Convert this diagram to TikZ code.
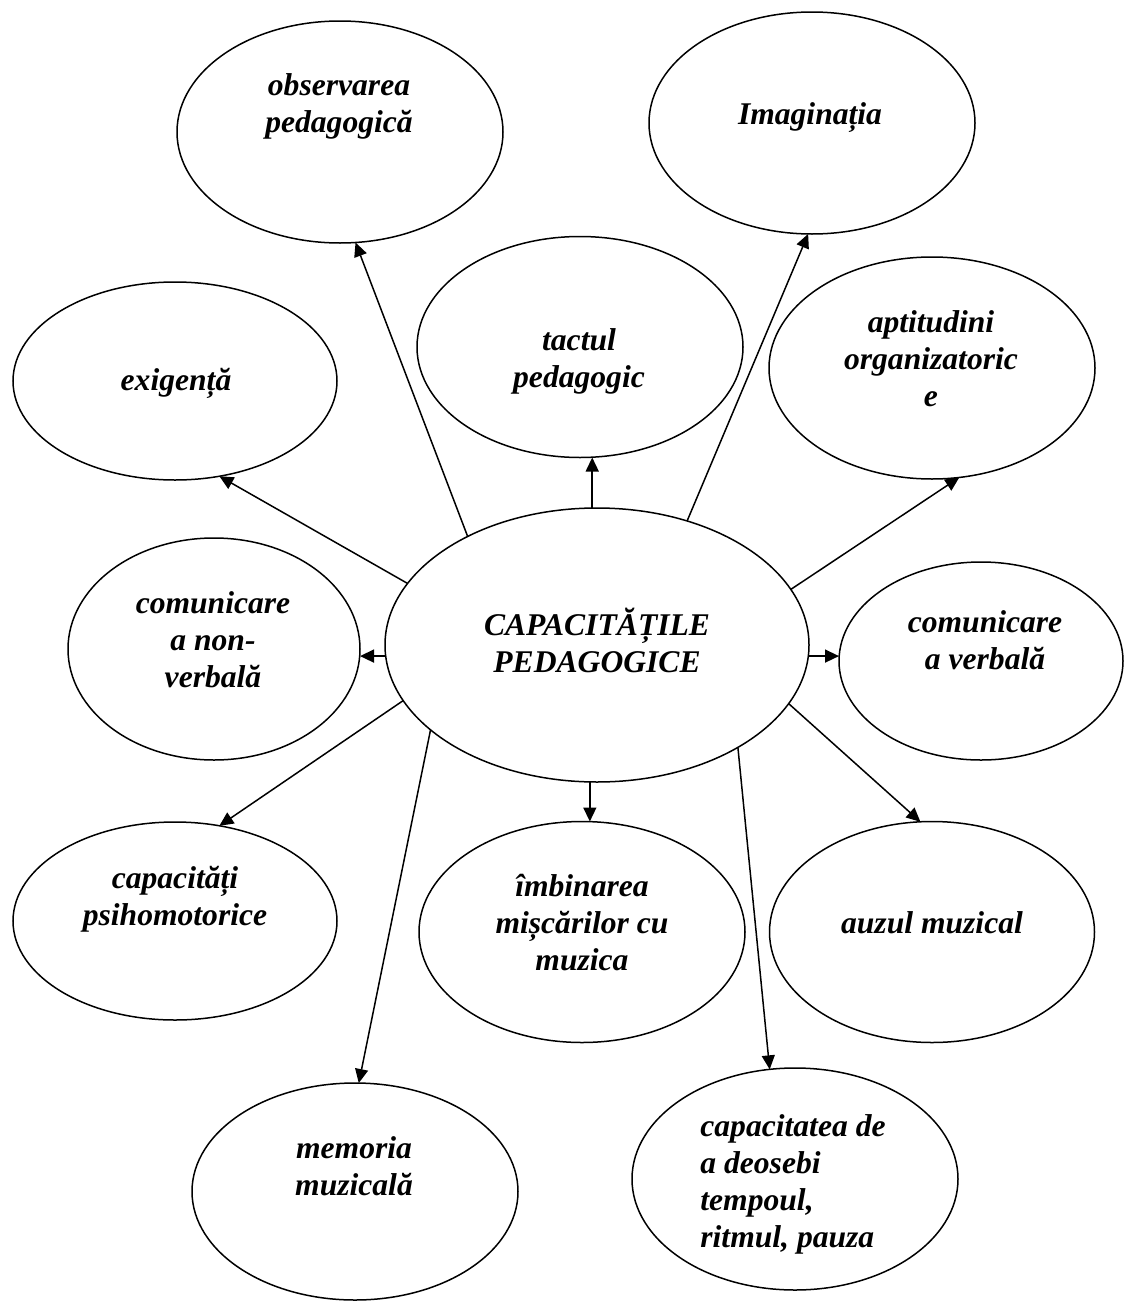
\documentclass[tikz,border=0pt]{standalone}
\usepackage{fontspec}
\setmainfont{Liberation Serif}
\usetikzlibrary{arrows.meta,shapes.geometric}
\begin{document}
\begin{tikzpicture}[x=0.5pt,y=-0.5pt,
  ell/.style={draw, ellipse, line width=0.75pt, inner sep=0pt, outer sep=0pt},
  lbl/.style={font=\fontsize{15.8}{18.5}\selectfont\bfseries\itshape, align=center, inner sep=0pt},
  arr/.style={-{Triangle[length=7pt,width=6.5pt]}, line width=0.75pt}]
\useasboundingbox (0,0) rectangle (1124,1301);
% ellipses
\node[ell, minimum width=163pt, minimum height=111pt] (obs) at (340,132) {};
\node[ell, minimum width=163pt, minimum height=111pt] (img) at (812,123) {};
\node[ell, minimum width=162pt, minimum height=99pt] (exi) at (175,381) {};
\node[ell, minimum width=163pt, minimum height=110.5pt] (tac) at (580,347) {};
\node[ell, minimum width=163pt, minimum height=111pt] (apt) at (932,368) {};
\node[ell, minimum width=212pt, minimum height=137pt] (cap) at (597,645) {};
\node[ell, minimum width=146pt, minimum height=111pt] (nv) at (214,649) {};
\node[ell, minimum width=142pt, minimum height=99pt] (ver) at (981,661) {};
\node[ell, minimum width=162pt, minimum height=99pt] (psi) at (175,921) {};
\node[ell, minimum width=163pt, minimum height=110.5pt] (imb) at (582,932) {};
\node[ell, minimum width=162.5pt, minimum height=110.5pt] (auz) at (932,932) {};
\node[ell, minimum width=163pt, minimum height=108.5pt] (mem) at (355,1191.5) {};
\node[ell, minimum width=163pt, minimum height=111pt] (cpt) at (795,1179) {};
% texts
\node[lbl] (obs-t) at (339,106) {observarea\\pedagogică};
\node[lbl] (img-t) at (810,118) {Imaginația};
\node[lbl] (exi-t) at (176,383) {exigență};
\node[lbl] (tac-t) at (579,361) {tactul\\pedagogic};
\node[lbl] (apt-t) at (931,359) {aptitudini\\organizatoric\\e};
\node[lbl] (cap-t) at (597,640) {CAPACITĂȚILE\\PEDAGOGICE};
\node[lbl] (nv-t) at (213,640) {comunicare\\a non-\\verbală};
\node[lbl] (ver-t) at (985,640) {comunicare\\a verbală};
\node[lbl] (psi-t) at (175,899) {capacități\\psihomotorice};
\node[lbl] (imb-t) at (582,923) {îmbinarea\\mișcărilor cu\\muzica};
\node[lbl] (auz-t) at (932,923) {auzul muzical};
\node[lbl] (mem-t) at (354,1166) {memoria\\muzicală};
\node[lbl, align=left, anchor=west] (cpt-t) at (700,1184) {capacitatea de\\a deosebi\\tempoul,\\ritmul, pauza};
% connectors
\draw[arr] (cap.140.5) -- (obs.278.9);
\draw[arr] (cap.54.5) -- (img.268.5);
\draw[arr] (cap.92.1) -- (cap.92.1 |- tac.south);
\draw[arr] (cap.16.3) -- (apt.284);
\draw[arr] (cap.162.3) -- (exi.295.4);
\draw[arr] (cap.183.2) -- (cap.183.2 -| nv.east);
\draw[arr] (cap.357) -- (cap.357 -| ver.west);
\draw[arr] (cap.196.8) -- (psi.65);
\draw[arr] (cap.267.5) -- (cap.267.5 |- imb.north);
\draw[arr] (cap.343.5) -- (auz.96.1);
\draw[arr] (cap.207.9) -- (mem.88.4);
\draw[arr] (cap.324.1) -- (cpt.103.2);
\end{tikzpicture}
\end{document}
